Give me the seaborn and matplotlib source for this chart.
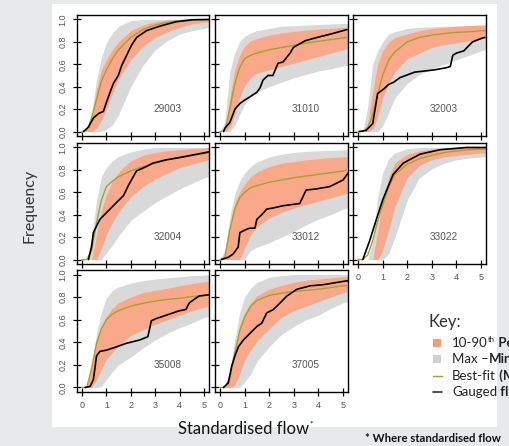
import matplotlib
matplotlib.use("Agg")
import matplotlib.pyplot as plt
import seaborn as sns
from matplotlib.patches import Rectangle
from matplotlib.lines import Line2D

# ---------------------------------------------------------------------------
# Flow-duration style frequency curves for eight gauging stations
# ---------------------------------------------------------------------------
STATIONS = ["29003", "31010", "32003", "32004", "33012", "33022", "35008", "37005"]

# standardised flow values at which the ensemble envelopes are tabulated
X_GRID = [0.0, 0.2, 0.4, 0.6, 0.8, 1.0, 1.25, 1.5, 2.0, 2.5, 3.0, 3.5, 4.0, 4.5, 5.0, 5.2]

# ensemble maximum
MAX_LINE = {
    "29003": [0, 0.01, 0.18, 0.46, 0.66, 0.79, 0.88, 0.94, 0.99, 1.0, 1.0, 1.0, 1.0, 1.0, 1.0, 1.0],
    "31010": [0, 0.08, 0.53, 0.70, 0.80, 0.85, 0.88, 0.90, 0.92, 0.94, 0.945, 0.95, 0.955, 0.96, 0.965, 0.965],
    "32003": [0, 0.0, 0.22, 0.60, 0.72, 0.80, 0.87, 0.89, 0.92, 0.93, 0.935, 0.94, 0.94, 0.945, 0.95, 0.95],
    "32004": [0, 0.0, 0.20, 0.53, 0.74, 0.82, 0.88, 0.92, 0.96, 0.985, 1.0, 1.0, 1.0, 1.0, 1.0, 1.0],
    "33012": [0, 0.08, 0.38, 0.58, 0.70, 0.77, 0.83, 0.87, 0.915, 0.94, 0.955, 0.965, 0.97, 0.975, 0.98, 0.98],
    "33022": [0, 0.0, 0.0, 0.17, 0.55, 0.77, 0.90, 0.95, 0.99, 1.0, 1.0, 1.0, 1.0, 1.0, 1.0, 1.0],
    "35008": [0, 0.0, 0.22, 0.48, 0.67, 0.79, 0.86, 0.89, 0.925, 0.945, 0.96, 0.97, 0.98, 0.99, 0.995, 1.0],
    "37005": [0, 0.0, 0.16, 0.42, 0.66, 0.80, 0.88, 0.93, 0.975, 0.99, 1.0, 1.0, 1.0, 1.0, 1.0, 1.0],
}

# ensemble minimum
MIN_LINE = {
    "29003": [0, 0, 0, 0, 0, 0.02, 0.06, 0.15, 0.40, 0.59, 0.73, 0.81, 0.87, 0.90, 0.92, 0.93],
    "31010": [0, 0, 0, 0.05, 0.15, 0.24, 0.31, 0.35, 0.40, 0.44, 0.48, 0.51, 0.54, 0.56, 0.585, 0.59],
    "32003": [0, 0, 0, 0, 0, 0.05, 0.17, 0.30, 0.43, 0.51, 0.56, 0.60, 0.64, 0.68, 0.72, 0.73],
    "32004": [0, 0, 0, 0, 0, 0.06, 0.13, 0.21, 0.35, 0.43, 0.51, 0.57, 0.63, 0.68, 0.73, 0.74],
    "33012": [0, 0, 0, 0, 0, 0, 0.08, 0.11, 0.15, 0.20, 0.25, 0.31, 0.36, 0.40, 0.45, 0.46],
    "33022": [0, 0, 0, 0, 0, 0, 0.05, 0.20, 0.53, 0.73, 0.81, 0.86, 0.89, 0.905, 0.915, 0.92],
    "35008": [0, 0, 0, 0, 0.01, 0.07, 0.14, 0.20, 0.27, 0.35, 0.42, 0.48, 0.53, 0.57, 0.62, 0.63],
    "37005": [0, 0, 0, 0, 0, 0.05, 0.12, 0.23, 0.36, 0.47, 0.54, 0.60, 0.64, 0.70, 0.75, 0.76],
}

# 90th percentile of the ensemble
P90 = {
    "29003": [0, 0, 0.10, 0.38, 0.55, 0.64, 0.73, 0.80, 0.90, 0.95, 0.98, 0.995, 1.0, 1.0, 1.0, 1.0],
    "31010": [0, 0, 0.30, 0.55, 0.68, 0.76, 0.81, 0.83, 0.86, 0.88, 0.895, 0.905, 0.915, 0.92, 0.93, 0.93],
    "32003": [0, 0, 0.08, 0.35, 0.60, 0.72, 0.80, 0.84, 0.87, 0.90, 0.92, 0.93, 0.94, 0.945, 0.95, 0.95],
    "32004": [0, 0, 0.0, 0.22, 0.44, 0.58, 0.70, 0.78, 0.88, 0.93, 0.955, 0.97, 0.98, 0.99, 0.995, 1.0],
    "33012": [0, 0.02, 0.30, 0.50, 0.60, 0.67, 0.74, 0.78, 0.83, 0.86, 0.875, 0.89, 0.90, 0.91, 0.915, 0.92],
    "33022": [0, 0, 0, 0.0, 0.25, 0.52, 0.74, 0.86, 0.94, 0.97, 0.985, 0.993, 1.0, 1.0, 1.0, 1.0],
    "35008": [0, 0, 0.18, 0.42, 0.54, 0.63, 0.70, 0.75, 0.80, 0.84, 0.86, 0.88, 0.90, 0.92, 0.935, 0.94],
    "37005": [0, 0, 0.08, 0.33, 0.55, 0.66, 0.75, 0.81, 0.87, 0.905, 0.93, 0.95, 0.96, 0.97, 0.98, 0.98],
}

# 10th percentile of the ensemble
P10 = {
    "29003": [0, 0, 0, 0.03, 0.10, 0.20, 0.34, 0.47, 0.64, 0.76, 0.84, 0.89, 0.93, 0.96, 0.975, 0.98],
    "31010": [0, 0, 0.03, 0.15, 0.30, 0.41, 0.48, 0.52, 0.55, 0.58, 0.61, 0.64, 0.67, 0.70, 0.73, 0.74],
    "32003": [0, 0, 0, 0.02, 0.13, 0.30, 0.43, 0.53, 0.65, 0.70, 0.75, 0.775, 0.79, 0.81, 0.83, 0.835],
    "32004": [0, 0, 0, 0, 0.10, 0.22, 0.33, 0.42, 0.56, 0.65, 0.72, 0.77, 0.82, 0.85, 0.88, 0.89],
    "33012": [0, 0, 0, 0, 0, 0.10, 0.22, 0.29, 0.37, 0.42, 0.46, 0.49, 0.52, 0.55, 0.58, 0.59],
    "33022": [0, 0, 0, 0, 0, 0.08, 0.26, 0.47, 0.73, 0.84, 0.89, 0.915, 0.93, 0.94, 0.95, 0.95],
    "35008": [0, 0, 0, 0.07, 0.16, 0.25, 0.31, 0.37, 0.46, 0.51, 0.56, 0.60, 0.64, 0.68, 0.71, 0.72],
    "37005": [0, 0, 0, 0.02, 0.12, 0.24, 0.33, 0.41, 0.52, 0.62, 0.68, 0.72, 0.76, 0.80, 0.84, 0.85],
}

# best-fit model curve
BEST_FIT = {
    "29003": [0, 0.01, 0.12, 0.29, 0.45, 0.55, 0.65, 0.73, 0.84, 0.91, 0.95, 0.975, 0.99, 1.0, 1.0, 1.0],
    "31010": [0, 0.01, 0.20, 0.42, 0.57, 0.65, 0.68, 0.70, 0.73, 0.75, 0.77, 0.79, 0.805, 0.82, 0.835, 0.84],
    "32003": [0, 0, 0.03, 0.15, 0.33, 0.50, 0.64, 0.71, 0.80, 0.84, 0.86, 0.875, 0.885, 0.89, 0.90, 0.90],
    "32004": [0, 0, 0.08, 0.33, 0.53, 0.65, 0.70, 0.74, 0.79, 0.83, 0.86, 0.89, 0.915, 0.93, 0.945, 0.95],
    "33012": [0, 0.02, 0.26, 0.45, 0.55, 0.60, 0.64, 0.66, 0.69, 0.71, 0.73, 0.745, 0.76, 0.775, 0.79, 0.80],
    "33022": [0, 0, 0.04, 0.17, 0.34, 0.48, 0.65, 0.76, 0.85, 0.90, 0.93, 0.955, 0.97, 0.98, 0.985, 0.99],
    "35008": [0, 0, 0.17, 0.39, 0.52, 0.60, 0.65, 0.68, 0.72, 0.745, 0.765, 0.78, 0.79, 0.805, 0.815, 0.82],
    "37005": [0, 0, 0.08, 0.30, 0.50, 0.62, 0.72, 0.77, 0.815, 0.835, 0.85, 0.86, 0.87, 0.885, 0.90, 0.90],
}

# observed (gauged) record
GAUGED_X = {
    "29003": [0.07, 0.27, 0.47, 0.68, 0.88, 1.02, 1.15, 1.29, 1.49, 1.63, 1.83, 2.03, 2.24, 2.64, 3.18, 3.86, 4.54, 5.2],
    "31010": [0.15, 0.2, 0.4, 0.61, 0.81, 1.0, 1.22, 1.5, 1.63, 1.75, 1.95, 2.15, 2.36, 2.56, 2.85, 2.98, 3.46, 3.95, 4.5, 5.16],
    "32003": [0.06, 0.33, 0.6, 0.8, 1.05, 1.25, 1.45, 1.7, 2.3, 3.1, 3.6, 3.75, 3.85, 4.0, 4.3, 4.65, 5.0, 5.15],
    "32004": [0.27, 0.4, 0.47, 0.74, 1.15, 1.42, 1.7, 1.9, 2.23, 2.64, 2.9, 3.45, 4.0, 5.18],
    "33012": [0.07, 0.34, 0.54, 0.74, 0.81, 1.08, 1.22, 1.42, 1.5, 1.7, 1.9, 2.16, 2.56, 3.24, 3.5, 3.9, 4.45, 5.0, 5.2],
    "33022": [0.2, 0.48, 0.75, 1.02, 1.43, 1.84, 2.52, 3.33, 4.4, 5.2],
    "35008": [0.13, 0.34, 0.47, 0.6, 0.74, 1.0, 1.42, 1.8, 2.36, 2.7, 2.84, 3.04, 3.45, 4.0, 4.25, 4.4, 4.66, 4.8, 5.18],
    "37005": [0.14, 0.34, 0.48, 0.61, 0.75, 0.95, 1.22, 1.5, 1.7, 1.9, 2.17, 2.45, 2.72, 3.13, 3.67, 4.2, 5.03, 5.2],
}
GAUGED_Y = {
    "29003": [0, 0.04, 0.12, 0.16, 0.18, 0.27, 0.35, 0.43, 0.50, 0.59, 0.68, 0.77, 0.84, 0.90, 0.94, 0.98, 0.997, 1.0],
    "31010": [0, 0.03, 0.08, 0.20, 0.25, 0.28, 0.31, 0.35, 0.39, 0.46, 0.50, 0.50, 0.61, 0.62, 0.70, 0.75, 0.81, 0.84, 0.87, 0.91],
    "32003": [0, 0.01, 0.07, 0.34, 0.38, 0.42, 0.44, 0.48, 0.53, 0.55, 0.57, 0.58, 0.68, 0.70, 0.72, 0.80, 0.83, 0.84],
    "32004": [0, 0.12, 0.24, 0.36, 0.45, 0.51, 0.57, 0.66, 0.79, 0.83, 0.86, 0.89, 0.91, 0.96],
    "33012": [0, 0.02, 0.05, 0.11, 0.24, 0.27, 0.28, 0.28, 0.36, 0.40, 0.45, 0.46, 0.48, 0.50, 0.62, 0.63, 0.65, 0.71, 0.77],
    "33022": [0, 0.17, 0.36, 0.54, 0.76, 0.86, 0.94, 0.98, 1.0, 1.0],
    "35008": [0, 0.01, 0.07, 0.28, 0.32, 0.33, 0.36, 0.39, 0.42, 0.45, 0.59, 0.61, 0.64, 0.68, 0.69, 0.75, 0.79, 0.81, 0.82],
    "37005": [0, 0.04, 0.19, 0.28, 0.36, 0.42, 0.48, 0.54, 0.57, 0.66, 0.69, 0.75, 0.81, 0.87, 0.90, 0.91, 0.94, 0.945],
}

X_TICKS = [0, 1, 2, 3, 4, 5]
Y_TICKS = [0.0, 0.2, 0.4, 0.6, 0.8, 1.0]
Y_TICK_LABELS = ["0.0", "0.2", "0.4", "0.6", "0.8", "1.0"]
LEGEND_LABELS = [("10-90", "th", " Percentile"), ("Max \u2013", "", "Min"),
                 ("Best-fit", "", " (Model)"), ("Gauged", "", " flow")]

# ---------------------------------------------------------------------------
ORANGE = "#F9A98A"
GREY = "#D9D9D9"
GREEN = "#A2A232"
TEXT_GREY = "#555555"

W, H = 509, 446
sns.set_theme(style="white")
plt.rcParams["font.family"] = ["Liberation Sans", "DejaVu Sans"]

fig = plt.figure(figsize=(W / 100, H / 100), dpi=100)
fig.patch.set_facecolor("#E8E9EB")
fig.add_artist(Rectangle((52 / W, 1 - 427 / H), (497 - 52) / W, (427 - 4) / H,
                         transform=fig.transFigure, facecolor="white",
                         edgecolor="none", zorder=0))

COLS = [(77, 209), (215, 348), (353, 486)]
ROWS = [(15, 136), (143, 264), (270, 392)]
BOTTOM_OF_COLUMN = {"35008", "37005", "33022"}


def px_axes(x0, x1, y0, y1):
    return fig.add_axes([x0 / W, 1 - y1 / H, (x1 - x0) / W, (y1 - y0) / H])


for i, st in enumerate(STATIONS):
    r, c = divmod(i, 3)
    ax = px_axes(*COLS[c], *ROWS[r])
    ax.set_facecolor("white")
    ax.fill_between(X_GRID, MIN_LINE[st], MAX_LINE[st], color=GREY, lw=0, zorder=1)
    ax.fill_between(X_GRID, P10[st], P90[st], color=ORANGE, lw=0, zorder=2)
    sns.lineplot(x=X_GRID, y=BEST_FIT[st], ax=ax, color=GREEN, lw=1.0,
                 estimator=None, sort=False, zorder=3)
    sns.lineplot(x=GAUGED_X[st], y=GAUGED_Y[st], ax=ax, color="black", lw=1.2,
                 estimator=None, sort=False, zorder=4)
    ax.set_xlim(-0.2, 5.2)
    ax.set_ylim(-0.04, 1.04)
    ax.set_xlabel("")
    ax.set_ylabel("")
    ax.set_xticks(X_TICKS)
    ax.set_yticks(Y_TICKS)
    ax.set_yticklabels(Y_TICK_LABELS, rotation=90, va="center")
    for sp in ax.spines.values():
        sp.set_color("black")
        sp.set_linewidth(1.0)
        sp.set_visible(True)
    ax.tick_params(direction="inout", length=5.5, width=0.9, color="black",
                   labelsize=6.5, labelcolor=TEXT_GREY, pad=4,
                   bottom=True, left=True)
    if c != 0:
        ax.tick_params(labelleft=False)
    if st not in BOTTOM_OF_COLUMN:
        ax.tick_params(labelbottom=False)
    ax.text(3.5, 0.2, st, ha="center", va="center", fontsize=7.2, color=TEXT_GREY)

# axis titles
SANS = ["Lato", "DejaVu Sans"]
fig.text(29 / W, 1 - 206 / H, "Frequency", rotation=90, ha="center", va="center",
         fontsize=11.5, color="#333333", family=SANS)

renderer = fig.canvas.get_renderer()


def run_text(x_px, y_px, parts):
    """Draw consecutive text runs left to right; each part is (text, kwargs)."""
    x = x_px
    for txt, kw in parts:
        if not txt:
            continue
        kw = dict(kw)
        dy = kw.pop("dy", 0)
        t = fig.text(x / W, 1 - (y_px - dy) / H, txt, ha="left", va="center", **kw)
        bb = t.get_window_extent(renderer)
        x = bb.x1


run_text(178, 429, [("Standardised flow", dict(fontsize=12, color="#111111", family=SANS)),
                    ("*", dict(fontsize=6, color="#111111", family=SANS, dy=5))])

# key
fig.text(428 / W, 1 - 322 / H, "Key:", ha="left", va="center", fontsize=12,
         color="#333333", family=SANS)
fig.add_artist(Rectangle((433 / W, 1 - 347 / H), 8 / W, 8 / H, transform=fig.transFigure,
                         facecolor="#F79C7A", edgecolor="none"))
fig.add_artist(Rectangle((433 / W, 1 - 363 / H), 8 / W, 8 / H, transform=fig.transFigure,
                         facecolor="#D0D0D0", edgecolor="none"))
fig.add_artist(Line2D([433 / W, 442 / W], [1 - 376 / H] * 2, transform=fig.transFigure,
                      color=GREEN, lw=1.0))
fig.add_artist(Line2D([433 / W, 442 / W], [1 - 392 / H] * 2, transform=fig.transFigure,
                      color="#333333", lw=1.2))
for (plain, sup, bold), ypx in zip(LEGEND_LABELS, [343, 359, 376, 392]):
    run_text(452, ypx, [(plain, dict(fontsize=9.5, color="#222222", family=SANS)),
                        (sup, dict(fontsize=5.5, color="#222222", family=SANS, dy=3)),
                        (bold, dict(fontsize=9.5, color="#222222", family=SANS,
                                    fontweight="bold"))])

fig.text(365 / W, 1 - 438 / H, "* Where standardised flow", ha="left", va="center",
         fontsize=8.2, fontweight="bold", color="#111111", family=SANS)

fig.savefig("out.png", dpi=100)
